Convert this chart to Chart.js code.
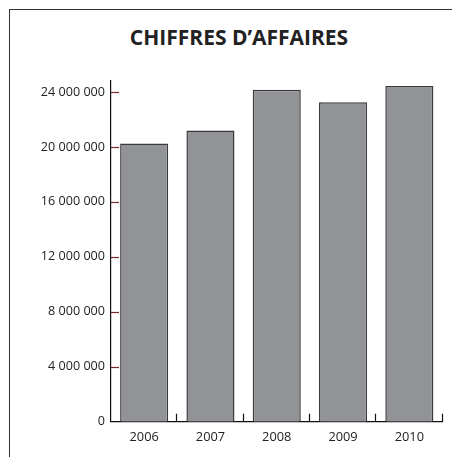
<!DOCTYPE html>
<html>
<head>
<meta charset="utf-8">
<script src="https://cdn.jsdelivr.net/npm/chart.js@4"></script>
<style>
  html, body { margin: 0; padding: 0; background: #fff; }
  #wrap { position: relative; width: 452px; height: 457px; overflow: hidden; }
  #frame { position: absolute; left: 9px; top: 9px; width: 460px; height: 460px;
           border-top: 1.5px solid #333; border-left: 1.5px solid #333; }
  #title { position: absolute; top: 25px; left: 239px; transform: translateX(-50%);
           font-family: "Open Sans", sans-serif; font-weight: bold; font-size: 21px;
           line-height: 24px; color: #222; white-space: nowrap; }
  canvas { position: absolute; left: 0; top: 0; }
</style>
</head>
<body>
<div id="wrap">
  <div id="frame"></div>
  <div id="title">CHIFFRES D’AFFAIRES</div>
  <canvas id="caChart" width="452" height="457"></canvas>
</div>
<script>
const years = ['2006', '2007', '2008', '2009', '2010'];
const revenue = [20250000, 21200000, 24170000, 23250000, 24440000];
const yTicks = [0, 4000000, 8000000, 12000000, 16000000, 20000000, 24000000];

function formatNumber(v) {
    return String(v).replace(/\B(?=(\d{3})+(?!\d))/g, ' ');
}

// little tick marks drawn inside the axes, like the original
const tickMarks = {
    id: 'tickMarks',
    beforeDatasetsDraw(chart) {
        const ctx = chart.ctx;
        const x = chart.scales.x;
        const y = chart.scales.y;
        ctx.save();
        ctx.lineWidth = 1.2;
        ctx.strokeStyle = '#7d2a2a';
        y.ticks.forEach(t => {
            if (t.value === 0) return;
            const py = Math.round(y.getPixelForValue(t.value)) + 0.5;
            ctx.beginPath();
            ctx.moveTo(y.right, py);
            ctx.lineTo(y.right + 8, py);
            ctx.stroke();
        });
        ctx.strokeStyle = '#111';
        for (let i = 0; i < years.length; i++) {
            const px = Math.round(x.getPixelForValue(i + 0.5)) - 0.5;
            ctx.beginPath();
            ctx.moveTo(px, x.top);
            ctx.lineTo(px, x.top - 8);
            ctx.stroke();
        }
        ctx.restore();
    }
};

new Chart(document.getElementById('caChart').getContext('2d'), {
    type: 'bar',
    data: {
        labels: years,
        datasets: [{
            label: "Chiffre d'affaires",
            data: revenue,
            backgroundColor: '#929396',
            borderColor: '#3a3a3a',
            borderWidth: 1.5,
            barPercentage: 0.725,
            categoryPercentage: 1
        }]
    },
    options: {
        responsive: false,
        animation: false,
        layout: { padding: { top: 81, right: 9.5, left: 0, bottom: 0 } },
        plugins: {
            legend: { display: false },
            tooltip: { enabled: false }
        },
        scales: {
            x: {
                grid: { display: false, drawTicks: false },
                border: { display: true, color: '#111', width: 1.2 },
                ticks: {
                    padding: 8,
                    color: '#222',
                    font: { family: 'Open Sans', size: 12.8 }
                },
                afterFit(scale) { scale.height = 35.3; }
            },
            y: {
                min: 0,
                max: 24800000,
                grid: { display: false, drawTicks: false },
                border: { display: true, color: '#111', width: 1.2 },
                afterBuildTicks(scale) {
                    scale.ticks = yTicks.map(v => ({ value: v }));
                },
                ticks: {
                    padding: 6,
                    color: '#222',
                    font: { family: 'Open Sans', size: 12.6 },
                    callback: v => formatNumber(v)
                },
                afterFit(scale) { scale.width = 111; }
            }
        }
    },
    plugins: [tickMarks]
});
</script>
</body>
</html>
